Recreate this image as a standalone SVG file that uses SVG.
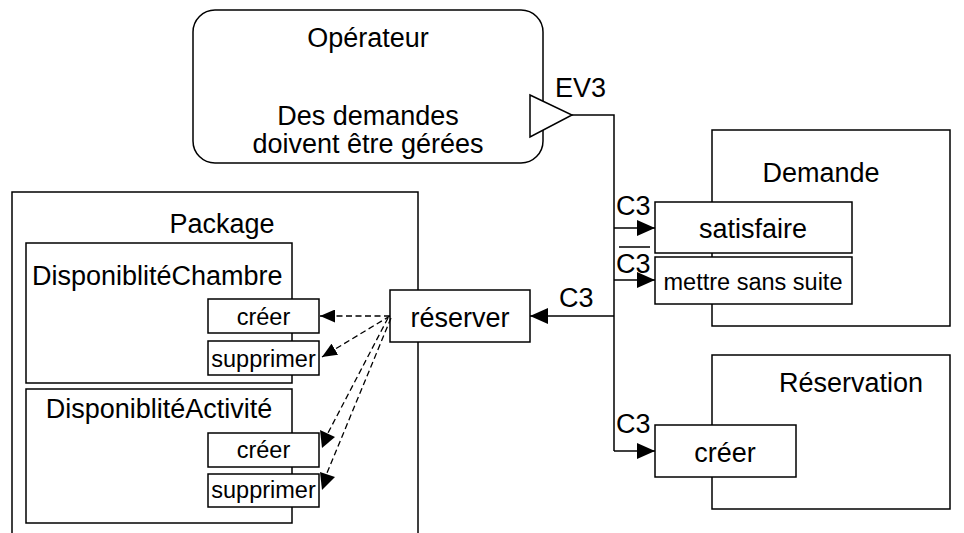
<svg xmlns="http://www.w3.org/2000/svg" width="964" height="533" viewBox="0 0 964 533">
<style>
text{font-family:"Liberation Sans",Arial,sans-serif;fill:#000}
.b{fill:#fff;stroke:#000;stroke-width:1.5}
.l{font-size:27px}
.s{font-size:23.5px}
.c{fill:none;stroke:#000;stroke-width:1.5}
.d{fill:none;stroke:#000;stroke-width:1.3;stroke-dasharray:6,3.5}
.h{fill:#000}
</style>
<defs>
<marker id="a" markerWidth="18" markerHeight="16" refX="18" refY="8" orient="auto" markerUnits="userSpaceOnUse"><path d="M0,0L18,8L0,16z" fill="#000"/></marker>
<marker id="ad" markerWidth="15" markerHeight="13" refX="15" refY="6.5" orient="auto" markerUnits="userSpaceOnUse"><path d="M0,0L15,6.5L0,13z" fill="#000"/></marker>
</defs>
<g id="package"><rect class="b" x="12" y="192" width="406" height="345"/><text class="l" x="222" y="233" text-anchor="middle">Package</text></g>
<g id="dispoChambre"><rect class="b" x="26" y="243" width="266" height="140"/><text class="l" x="32" y="285">DisponiblitéChambre</text></g>
<g id="chambreCreer"><rect class="b" x="208" y="299" width="111" height="34"/><text class="s" x="263.5" y="325" text-anchor="middle">créer</text></g>
<g id="chambreSupprimer"><rect class="b" x="208" y="341" width="111" height="34"/><text class="s" x="263.5" y="367" text-anchor="middle">supprimer</text></g>
<g id="dispoActivite"><rect class="b" x="26" y="389" width="266" height="134"/><text class="l" x="159" y="418" text-anchor="middle">DisponiblitéActivité</text></g>
<g id="activiteCreer"><rect class="b" x="208" y="433" width="111" height="34"/><text class="s" x="263.5" y="458" text-anchor="middle">créer</text></g>
<g id="activiteSupprimer"><rect class="b" x="208" y="474" width="111" height="33"/><text class="s" x="263.5" y="498" text-anchor="middle">supprimer</text></g>
<g id="reserver"><rect class="b" x="390" y="290" width="140" height="52"/><text class="l" x="460" y="327" text-anchor="middle">réserver</text></g>
<g id="operateur"><rect class="b" x="193" y="10" width="350" height="153" rx="22"/><text class="l" x="368" y="47" text-anchor="middle">Opérateur</text><text class="l" x="368" y="125" text-anchor="middle">Des demandes</text><text class="l" x="368" y="153" text-anchor="middle">doivent être gérées</text><path class="b" d="M530,95L572,115L530,137z"/></g>
<g id="demande"><rect class="b" x="712" y="130" width="238" height="196"/><text class="l" x="821" y="182" text-anchor="middle">Demande</text></g>
<g id="satisfaire"><rect class="b" x="655" y="202" width="197" height="51"/><text class="l" x="753" y="238" text-anchor="middle">satisfaire</text></g>
<g id="mettreSansSuite"><rect class="b" x="655" y="257" width="197" height="47"/><text class="s" x="753" y="290" text-anchor="middle">mettre sans suite</text></g>
<g id="reservation"><rect class="b" x="712" y="355" width="238" height="154"/><text class="l" x="851" y="392" text-anchor="middle">Réservation</text></g>
<g id="reservationCreer"><rect class="b" x="655" y="425" width="141" height="52"/><text class="l" x="725" y="462" text-anchor="middle">créer</text></g>
<g id="connectors">
<path class="c" d="M572,115H614V451"/>
<path class="c" d="M614,228H655" marker-end="url(#a)"/>
<path class="c" d="M614,280H655" marker-end="url(#a)"/>
<path class="c" d="M614,451H655" marker-end="url(#a)"/>
<path class="c" d="M614,316H530" marker-end="url(#a)"/>
<path class="d" d="M390,316H320" marker-end="url(#ad)"/>
<path class="d" d="M390,316L322,357" marker-end="url(#ad)"/>
<path class="d" d="M388,318L328,433"/>
<path class="h" d="M320,430L335,437L322,448z"/>
<path class="d" d="M391,318L327,473"/>
<path class="h" d="M320,472L335,477L322,490z"/>
<text class="l" x="555" y="97">EV3</text>
<text class="l" x="616" y="215">C3</text>
<path d="M619,247H650" stroke="#000" stroke-width="1.5"/>
<text class="l" x="616" y="273">C3</text>
<text class="l" x="616" y="433">C3</text>
<text class="l" x="559" y="307">C3</text>
</g>
</svg>
